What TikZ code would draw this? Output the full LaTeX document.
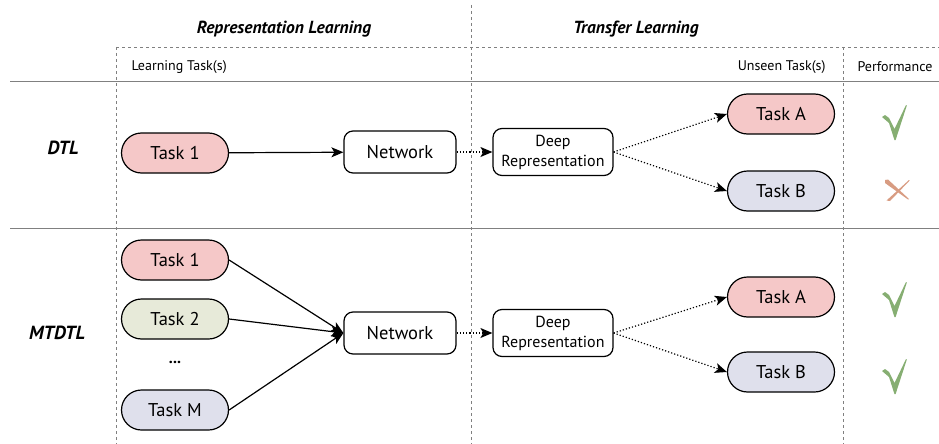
\documentclass[tikz,border=0pt]{standalone}
\usepackage{fontspec}
\setmainfont{PT Sans}
\usetikzlibrary{arrows.meta}
\usetikzlibrary{positioning}
\definecolor{taskred}{HTML}{F5C8C8}
\definecolor{taskgreen}{HTML}{E7EAD9}
\definecolor{taskblue}{HTML}{DFE0EC}
\definecolor{okgreen}{HTML}{86AE72}
\definecolor{failred}{HTML}{D89C82}
\definecolor{rule}{HTML}{808080}
\tikzset{task/.style = {draw, line width = 1.2, rounded corners = 20, minimum width = 107, minimum height = 40, inner sep = 0, font = \fontsize{18.5}{20}\selectfont}}
\tikzset{netbox/.style = {draw, fill = white, line width = 1.2, rounded corners = 9, minimum width = 112, minimum height = 42, inner sep = 0, font = \fontsize{18.5}{20}\selectfont}}
\tikzset{repbox/.style = {draw, fill = white, line width = 1.2, rounded corners = 9, minimum width = 120, minimum height = 47, inner sep = 0, align = center, font = \fontsize{16}{20}\selectfont}}
\tikzset{learn/.style = {line width = 1.2, -{Stealth[length = 12, width = 10, inset = 3]}}}
\tikzset{transfer/.style = {line width = 1.2, dotted, -{Stealth[length = 12, width = 10, inset = 3]}}}
\tikzset{grid/.style = {rule, line width = 0.9, dash pattern = on 3 off 3}}
\tikzset{okmark/.pic = {\fill [okgreen] (-13, -6) -- (-10, -8) -- (-6, -5) -- (-0.5, 6) -- (11, -18) -- (11.8, -17.4) -- (0.6, 17) -- (-0.6, 17) -- (-6, 0) -- cycle;}}
\tikzset{failmark/.pic = {
    \fill [failred] (-12, -10) -- (-9, -10.5) -- (12, 9) -- (11, 9.5) -- (-12, -7) -- cycle;
    \fill [failred] (12, -10) -- (12.6, -9.4) -- (-7, 11) -- (-10.5, 10.5) -- cycle;}}

\begin{document}
\begin{tikzpicture}[x = 1pt, y = -1pt]
    \useasboundingbox (0, 0) rectangle (939, 444);

    \draw [grid] (471, 5) -- (471, 444);
    \draw [grid] (116, 47) -- (116, 444);
    \draw [grid] (843, 47) -- (843, 444);
    \draw [grid] (116, 47) -- (939, 47);
    \draw [rule, line width = 1] (10, 81) -- (939, 81);
    \draw [rule, line width = 1] (10, 228) -- (939, 228);

    \node [font = \fontsize{17.5}{18}\selectfont\bfseries\itshape] (hrep) at (284, 29) {Representation Learning};
    \node [font = \fontsize{17.5}{18}\selectfont\bfseries\itshape] (htrans) at (636, 29) {Transfer Learning};
    \node [font = \fontsize{14}{16}\selectfont, anchor = west] (hlearn) at (128, 67) {Learning Task(s)};
    \node [font = \fontsize{14}{16}\selectfont, anchor = east] (hunseen) at (829, 67) {Unseen Task(s)};
    \node [font = \fontsize{14}{16}\selectfont] (hperf) at (895, 67) {Performance};

    % DTL
    \node [font = \fontsize{19}{20}\selectfont\bfseries\itshape] (dtl) at (63, 148) {DTL};
    \node [task, fill = taskred] (d1) at (175, 153) {Task 1};
    \node [netbox] (dnet) at (400, 152) {Network};
    \node [repbox] (drep) at (553, 152) {Deep\\Representation};
    \node [task, fill = taskred] (da) at (781, 114) {Task A};
    \node [task, fill = taskblue] (db) at (781, 191) {Task B};
    \draw [learn] (d1) -- (dnet);
    \draw [transfer] (dnet) -- (drep);
    \draw [transfer] (drep.east) -- (da.west);
    \draw [transfer] (drep.east) -- (db.west);
    \pic at (895, 123) {okmark};
    \pic at (897, 190) {failmark};

    % MTDTL
    \node [font = \fontsize{19}{20}\selectfont\bfseries\itshape] (mtdtl) at (57, 333) {MTDTL};
    \node [task, fill = taskred] (m1) at (175, 260) {Task 1};
    \node [task, fill = taskgreen] (m2) at (175, 319) {Task 2};
    \node [font = \fontsize{16}{18}\selectfont\bfseries] (mdots) at (175, 362) {...};
    \node [task, fill = taskblue] (mm) at (175, 410) {Task M};
    \node [netbox] (mnet) at (400, 333) {Network};
    \node [repbox] (mrep) at (553, 333) {Deep\\Representation};
    \node [task, fill = taskred] (ma) at (781, 297) {Task A};
    \node [task, fill = taskblue] (mb) at (781, 372) {Task B};
    \draw [learn] (m1.east) -- (mnet.west);
    \draw [learn] (m2.east) -- (mnet.west);
    \draw [learn] (mm.east) -- (mnet.west);
    \draw [transfer] (mnet) -- (mrep);
    \draw [transfer] (mrep.east) -- (ma.west);
    \draw [transfer] (mrep.east) -- (mb.west);
    \pic at (895, 300) {okmark};
    \pic at (895, 377) {okmark};
  \end{tikzpicture}
\end{document}
